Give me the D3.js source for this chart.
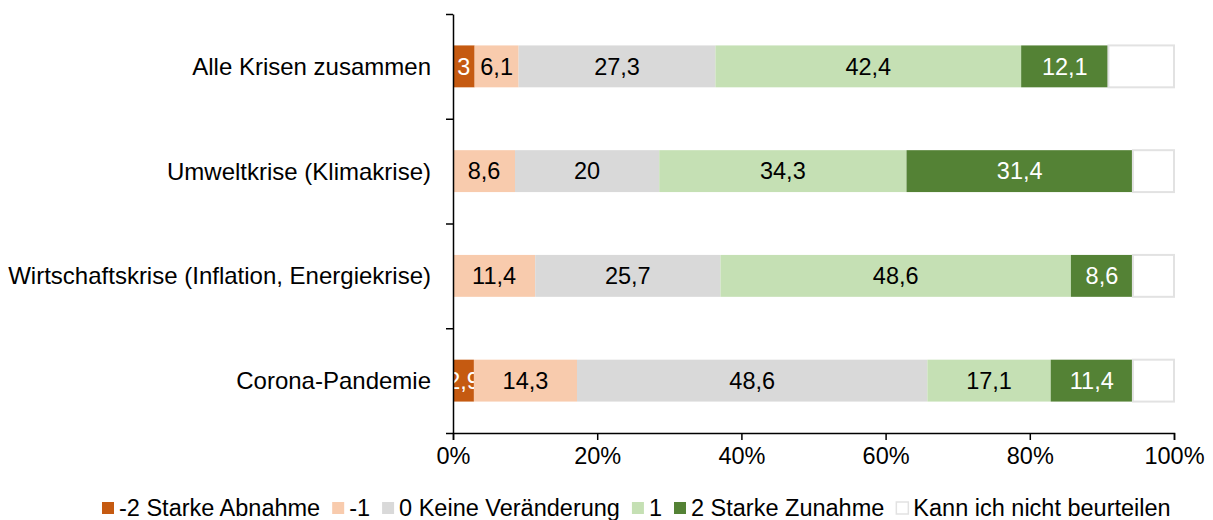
<!DOCTYPE html>
<html>
<head>
<meta charset="utf-8">
<script src="https://cdn.jsdelivr.net/npm/d3@7"></script>
<style>
  body { margin: 0; background: #fff; }
  text { font-family: "Liberation Sans", Arial, sans-serif; font-size: 23.5px; fill: #000; }
</style>
</head>
<body>
<div id="chart"></div>
<script>
// categories and series (percent)
var categories = ["Alle Krisen zusammen", "Umweltkrise (Klimakrise)", "Wirtschaftskrise (Inflation, Energiekrise)", "Corona-Pandemie"];
var keys = ["-2 Starke Abnahme", "-1", "0 Keine Veränderung", "1", "2 Starke Zunahme", "Kann ich nicht beurteilen"];
var starkeAbnahme = [3, 0, 0, 2.9];
var abnahme = [6.1, 8.6, 11.4, 14.3];
var keine = [27.3, 20, 25.7, 48.6];
var zunahme = [42.4, 34.3, 48.6, 17.1];
var starkeZunahme = [12.1, 31.4, 8.6, 11.4];
var kannNicht = [9.1, 5.7, 5.7, 5.7];
var xTicks = [0, 20, 40, 60, 80, 100];

var colors = ["#C55A11", "#F8CBAD", "#D9D9D9", "#C5E0B4", "#548235", "#FFFFFF"];
var labelColors = ["#fff", "#000", "#000", "#000", "#fff", "#000"];

var data = categories.map(function(c, i) {
  var row = {cat: c};
  [starkeAbnahme, abnahme, keine, zunahme, starkeZunahme, kannNicht].forEach(function(s, k) { row[keys[k]] = s[i]; });
  return row;
});

var margin = {top: 14, right: 39, bottom: 87, left: 453},
    width = 1213 - margin.left - margin.right,
    height = 520 - margin.top - margin.bottom;

var svg = d3.select("#chart")
  .append("svg")
    .attr("width", 1213)
    .attr("height", 520);

var g = svg.append("g")
    .attr("transform", "translate(" + margin.left + "," + margin.top + ")");

var x = d3.scaleLinear().domain([0, 100]).range([0, width]);
var y = d3.scaleBand().domain(categories).range([0, height]).paddingInner(0.6).paddingOuter(0.3);

var series = d3.stack().keys(keys)(data);

// bars
series.forEach(function(s, k) {
  var grp = g.append("g");
  grp.selectAll("rect")
    .data(s.filter(function(d) { return d[1] - d[0] > 0; }))
    .enter()
    .append("rect")
      .attr("x", function(d) { return x(d[0]); })
      .attr("y", function(d) { return y(d.data.cat); })
      .attr("width", function(d) { return x(d[1]) - x(d[0]); })
      .attr("height", y.bandwidth())
      .style("fill", colors[k])
      .style("stroke", k == 5 ? "#E2E2E2" : "none")
      .style("stroke-width", 2);
  if (k < 5) {
    grp.selectAll("text")
      .data(s.filter(function(d) { return d[1] - d[0] > 0; }))
      .enter()
      .append("text")
        .attr("x", function(d) { return (x(d[0]) + x(d[1])) / 2; })
        .attr("y", function(d) { return y(d.data.cat) + y.bandwidth() / 2; })
        .attr("dy", "0.35em")
        .attr("text-anchor", "middle")
        .style("fill", labelColors[k])
        .text(function(d) { return String(+(d[1] - d[0]).toFixed(1)).replace(".", ","); });
  }
});

// x axis
var xAxis = g.append("g")
    .attr("transform", "translate(0," + height + ")")
    .call(d3.axisBottom(x).tickValues(xTicks).tickSize(7).tickSizeOuter(7).tickFormat(function(d) { return d + "%"; }));
xAxis.select(".domain").attr("stroke", "#000").attr("stroke-width", 1.5);
xAxis.selectAll(".tick line").attr("stroke", "#000").attr("stroke-width", 1.5);
xAxis.selectAll(".tick text").attr("y", 14).style("font-size", "23.5px").style("font-family", "Liberation Sans, Arial, sans-serif");

// y axis with ticks at band boundaries
var yb = d3.scaleLinear().domain([0, categories.length]).range([0, height]);
var yAxis = g.append("g")
    .call(d3.axisLeft(yb).ticks(categories.length).tickSize(7).tickSizeOuter(0).tickFormat(""));
yAxis.select(".domain").attr("stroke", "#000").attr("stroke-width", 1.5);
yAxis.selectAll(".tick line").attr("stroke", "#000").attr("stroke-width", 1.5);

// category labels
g.append("g").selectAll("text")
  .data(categories)
  .enter()
  .append("text")
    .attr("x", -22)
    .attr("y", function(d) { return y(d) + y.bandwidth() / 2; })
    .attr("dy", "0.35em")
    .attr("text-anchor", "end")
    .style("font-size", "24px")
    .text(function(d) { return d; });

// legend
var legend = svg.append("g").attr("transform", "translate(102,508)");
var lx = 0;
keys.forEach(function(k, i) {
  legend.append("rect")
    .attr("x", lx)
    .attr("y", -6)
    .attr("width", 12)
    .attr("height", 12)
    .style("fill", colors[i])
    .style("stroke", i == 5 ? "#E2E2E2" : "none")
    .style("stroke-width", 1.5);
  var t = legend.append("text")
    .attr("x", lx + 17)
    .attr("y", 0)
    .attr("dy", "0.35em")
    .text(k);
  lx += 17 + t.node().getComputedTextLength() + 12;
});
</script>
</body>
</html>
